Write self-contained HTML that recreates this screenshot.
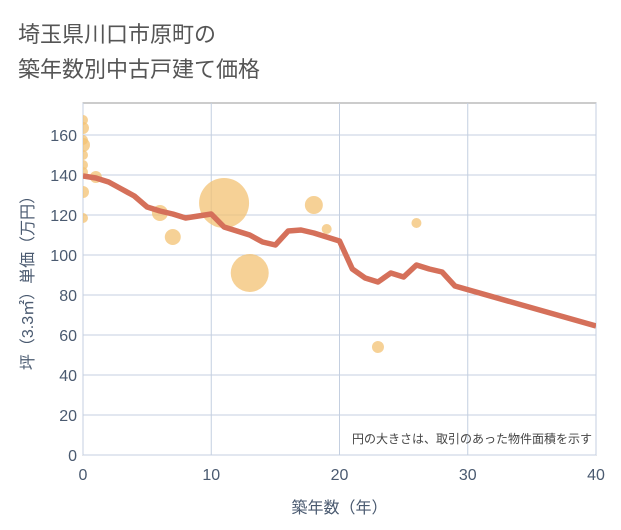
<!DOCTYPE html>
<html><head><meta charset="utf-8">
<style>
body{margin:0;background:#fff;font-family:"Liberation Sans","Noto Sans CJK JP",sans-serif;}
#wrap{position:relative;width:621px;height:530px;overflow:hidden;}
</style></head>
<body>
<div id="wrap">
<svg id="chart" width="621" height="530"><defs><clipPath id="pc"><rect x="83" y="103" width="513" height="352"/></clipPath></defs></svg>
</div>
<script>
const years=[0,1,2,3,4,5,6,7,8,9,10,11,12,13,14,15,16,17,18,19,20,21,22,23,24,25,26,27,28,29,40];
const prices=[139.5,138.5,136.5,133,129.5,124,122,120.5,118.5,119.5,120.5,114,112,110,106.5,105,112,112.5,111,109,107,93,88.5,86.5,91,89,95,93,91.5,84.5,64.5];
const bubbleX=[0,0,0,0,0,0,0,0,0,1,6,7,11,13,18,19,23,26];
const bubbleY=[167.5,163.5,157.5,155,150,145,141.5,131.5,118.5,139,121,109,126,91,125,113,54,116];
const bubbleR=[5,6,5,7,5,5,5,6,5,6,8,8,25,19,9,5,6,5];
const xTicks=[0,10,20,30,40];
const yTicks=[0,20,40,60,80,100,120,140,160];
const NS="http://www.w3.org/2000/svg";
const svg=document.getElementById('chart');
const L=83,R=596,T=103,B=455;
const xs=v=>L+(v-0)/40*(R-L);
const ys=v=>B-v*2;
function mk(tag,attrs,parent){const e=document.createElementNS(NS,tag);for(const k in attrs)e.setAttribute(k,attrs[k]);(parent||svg).appendChild(e);return e;}
const bg=mk('rect',{x:L,y:T,width:R-L,height:B-T,fill:'#fff',stroke:'#999','stroke-width':1});


yTicks.forEach(v=>{
 const g=mk('line',{x1:L,x2:R,y1:ys(v),y2:ys(v),stroke:'#c4cfe0','stroke-width':1});
 
 
 const t=mk('text',{x:L-6,y:ys(v)+6,'text-anchor':'end','font-size':16,fill:'#4a5a70'});
 t.textContent=v;
 
 
});
xTicks.forEach(v=>{
 const g=mk('line',{x1:xs(v),x2:xs(v),y1:T,y2:B,stroke:'#c4cfe0','stroke-width':1});
 
 
 const t=mk('text',{x:xs(v),y:B+25,'text-anchor':'middle','font-size':16,fill:'#4a5a70'});
 t.textContent=v;
 
 
});
const gp=mk('g',{'clip-path':'url(#pc)'});


bubbleX.forEach((x,i)=>{
 const c=mk('circle',{cx:xs(x),cy:ys(bubbleY[i]),r:bubbleR[i],fill:'#f3c173','fill-opacity':0.75},gp);
 
 
});
const p=mk('polyline',{points:years.map((y,i)=>xs(y)+','+ys(prices[i])).join(' '),fill:'none',stroke:'#d5705a','stroke-width':5.5,'stroke-linejoin':'round'},gp);


function txt(s,a,name){const t=mk('text',a);t.textContent=s;return t;}
txt('埼玉県川口市原町の',{x:18,y:42,'font-size':22,fill:'#555'},'chart-title-line1');
txt('築年数別中古戸建て価格',{x:18,y:77,'font-size':22,fill:'#555'},'chart-title-line2');
txt('円の大きさは、取引のあった物件面積を示す',{x:592,y:443,'text-anchor':'end','font-size':12,fill:'#444'},'bubble-size-note');
txt('築年数（年）',{x:(L+R)/2,y:513,'text-anchor':'middle','font-size':16,fill:'#4a5a70'},'x-axis-title');
txt('坪（3.3㎡）単価（万円）',{x:0,y:0,'text-anchor':'middle','font-size':16,fill:'#4a5a70',transform:'translate(33,'+((T+B)/2)+') rotate(-90)'},'y-axis-title');
</script>
</body></html>
